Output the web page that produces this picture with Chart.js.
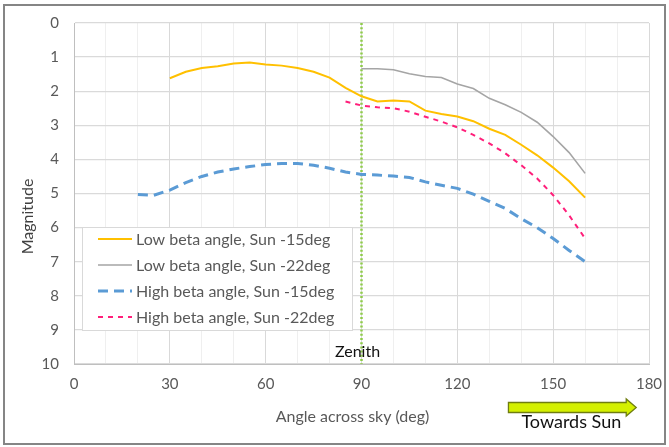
<!DOCTYPE html>
<html>
<head>
<meta charset="utf-8">
<script src="https://cdn.jsdelivr.net/npm/chart.js@4/dist/chart.umd.min.js"></script>
<style>
  html, body { margin: 0; padding: 0; background: #fff; }
  #wrap { width: 669px; height: 447px; position: relative; }
</style>
</head>
<body>
<div id="wrap"><canvas id="c" width="669" height="447"></canvas></div>
<script>
// Sky angle sample points (deg) for each series
const anglesLowSun15  = [30,35,40,45,50,55,60,65,70,75,80,85,90,95,100,105,110,115,120,125,130,135,140,145,150,155,160];
const anglesLowSun22  = [90,95,100,105,110,115,120,125,130,135,140,145,150,155,160];
const anglesHighSun15 = [20,25,30,35,40,45,50,55,60,65,70,75,80,85,90,95,100,105,110,115,120,125,130,135,140,145,150,155,160];
const anglesHighSun22 = [85,90,95,100,105,110,115,120,125,130,135,140,145,150,155,160];

// Apparent magnitude along each pass
const magLowSun15  = [1.62,1.43,1.32,1.27,1.19,1.16,1.22,1.25,1.32,1.43,1.60,1.90,2.15,2.30,2.27,2.30,2.57,2.67,2.74,2.88,3.10,3.28,3.57,3.88,4.24,4.64,5.12];
const magLowSun22  = [1.34,1.34,1.37,1.49,1.57,1.60,1.79,1.92,2.21,2.40,2.62,2.91,3.33,3.80,4.41];
const magHighSun15 = [5.03,5.05,4.90,4.68,4.50,4.37,4.28,4.21,4.15,4.12,4.12,4.17,4.26,4.37,4.44,4.46,4.49,4.53,4.66,4.76,4.85,5.02,5.23,5.44,5.74,6.00,6.32,6.67,7.00];
const magHighSun22 = [2.30,2.42,2.47,2.50,2.60,2.75,2.89,3.06,3.28,3.53,3.82,4.17,4.56,5.05,5.64,6.32];

const seriesLabels = [
  'Low beta angle, Sun -15deg',
  'Low beta angle, Sun -22deg',
  'High beta angle, Sun -15deg',
  'High beta angle, Sun -22deg'
];

// Zenith marker and axis ticks
const zenithAngle = 90;
const magnitudeRange = [0, 10];
const angleTicks = [0, 30, 60, 90, 120, 150, 180];

const FONT = 'Lato, "Open Sans", sans-serif';
const GREY_TEXT = '#595959';

function pairs(xs, ys) { return xs.map((x, i) => ({ x: x, y: ys[i] })); }

// Framed background
const frame = {
  id: 'frame',
  beforeDraw(chart) {
    const c = chart.ctx;
    c.save();
    c.fillStyle = '#fff';
    c.fillRect(0, 0, chart.width, chart.height);
    c.restore();
  },
  afterDraw(chart) {
    const c = chart.ctx;
    c.save();
    c.strokeStyle = '#858585';
    c.lineWidth = 2;
    c.strokeRect(4, 5, 661, 439);
    c.restore();
  }
};

// Legend box drawn inside the plot, using each dataset's own line style
const insideLegend = {
  id: 'insideLegend',
  afterDatasetsDraw(chart) {
    const c = chart.ctx;
    const a = chart.chartArea;
    const left = a.left + 8, top = a.top + 204, w = 270, h = 103;
    c.save();
    c.fillStyle = '#fff';
    c.fillRect(left, top, w, h);
    c.strokeStyle = '#d9d9d9';
    c.lineWidth = 1;
    c.strokeRect(left + 0.5, top + 0.5, w, h);
    c.font = '16px ' + FONT;
    c.textBaseline = 'middle';
    c.fillStyle = GREY_TEXT;
    chart.data.datasets.forEach((ds, i) => {
      if (!ds.inLegend) return;
      const y = top + 12 + i * 26;
      c.save();
      c.strokeStyle = ds.borderColor;
      c.lineWidth = ds.borderWidth;
      c.setLineDash(ds.borderDash || []);
      c.beginPath();
      c.moveTo(left + 16, y);
      c.lineTo(left + 50, y);
      c.stroke();
      c.restore();
      c.fillText(ds.label, left + 54, y + 1);
    });
    c.restore();
  }
};

// Axis titles, zenith caption and the "Towards Sun" arrow
const annotations = {
  id: 'annotations',
  afterDraw(chart) {
    const c = chart.ctx;
    const xs = chart.scales.x;
    const a = chart.chartArea;
    c.save();
    c.textAlign = 'center';
    c.textBaseline = 'middle';

    // axis titles
    c.font = '16px ' + FONT;
    c.fillStyle = GREY_TEXT;
    c.fillText('Angle across sky (deg)', (a.left + a.right) / 2 - 9, 417);
    c.save();
    c.translate(28, (a.top + a.bottom) / 2 + 23);
    c.rotate(-Math.PI / 2);
    c.fillStyle = '#404040';
    c.fillText('Magnitude', 0, 0);
    c.restore();

    c.fillStyle = '#111';
    c.fillText('Zenith', xs.getPixelForValue(zenithAngle) - 4, a.bottom - 12);

    const x0 = xs.getPixelForValue(136), x1 = xs.getPixelForValue(176);
    const yc = 407.5, shaftH = 5, headH = 8.5, headW = 10;
    c.beginPath();
    c.moveTo(x0, yc - shaftH);
    c.lineTo(x1 - headW, yc - shaftH);
    c.lineTo(x1 - headW, yc - headH);
    c.lineTo(x1, yc);
    c.lineTo(x1 - headW, yc + headH);
    c.lineTo(x1 - headW, yc + shaftH);
    c.lineTo(x0, yc + shaftH);
    c.closePath();
    c.fillStyle = '#d4f000';
    c.fill();
    c.strokeStyle = '#6f7d10';
    c.lineWidth = 1.3;
    c.stroke();

    c.font = '18px ' + FONT;
    c.fillStyle = '#111';
    c.fillText('Towards Sun', (x0 + x1) / 2 - 1, 422);
    c.restore();
  }
};

new Chart(document.getElementById('c'), {
  type: 'line',
  data: {
    datasets: [
      { label: seriesLabels[0], data: pairs(anglesLowSun15, magLowSun15), borderColor: '#ffc000', borderWidth: 2, inLegend: true },
      { label: seriesLabels[1], data: pairs(anglesLowSun22, magLowSun22), borderColor: '#a5a5a5', borderWidth: 1.6, inLegend: true },
      { label: seriesLabels[2], data: pairs(anglesHighSun15, magHighSun15), borderColor: '#5b9bd5', borderWidth: 3, borderDash: [10, 6], inLegend: true },
      { label: seriesLabels[3], data: pairs(anglesHighSun22, magHighSun22), borderColor: '#ff1f7a', borderWidth: 2, borderDash: [5, 5], inLegend: true },
      { label: 'Zenith', data: [{ x: zenithAngle, y: magnitudeRange[0] }, { x: zenithAngle, y: magnitudeRange[1] }], borderColor: '#8fcc4a', borderWidth: 2.5, borderDash: [2, 2.2], inLegend: false }
    ]
  },
  options: {
    responsive: false,
    animation: false,
    devicePixelRatio: 1,
    layout: { padding: { left: 18, top: 23, right: 20, bottom: 0 } },
    elements: { point: { radius: 0, hoverRadius: 0 }, line: { tension: 0, fill: false } },
    plugins: { legend: { display: false }, tooltip: { enabled: false } },
    scales: {
      x: {
        type: 'linear',
        min: angleTicks[0],
        max: angleTicks[angleTicks.length - 1],
        afterFit(s) { s.height = 83; s.paddingLeft = 0; s.paddingRight = 0; },
        ticks: {
          stepSize: 10,
          autoSkip: false,
          maxRotation: 0,
          padding: 11,
          color: GREY_TEXT,
          font: { family: FONT, size: 15 },
          callback: v => angleTicks.includes(v) ? String(v) : ''
        },
        grid: {
          drawTicks: false,
          color: ctx => (ctx.tick && ctx.tick.value % 30 === 0) ? '#d9d9d9' : '#efefef',
          lineWidth: 1
        },
        border: { color: '#bfbfbf', width: 1 },
        title: { display: false }
      },
      y: {
        type: 'linear',
        reverse: true,
        min: magnitudeRange[0],
        max: magnitudeRange[1],
        afterFit(s) { s.width = 56; s.paddingTop = 0; s.paddingBottom = 0; },
        ticks: {
          stepSize: 1,
          padding: 15,
          color: GREY_TEXT,
          font: { family: FONT, size: 15 }
        },
        grid: { drawTicks: false, color: '#dadada', lineWidth: 1.3 },
        border: { color: '#bfbfbf', width: 1 },
        title: { display: false }
      }
    }
  },
  plugins: [frame, insideLegend, annotations]
});
</script>
</body>
</html>
